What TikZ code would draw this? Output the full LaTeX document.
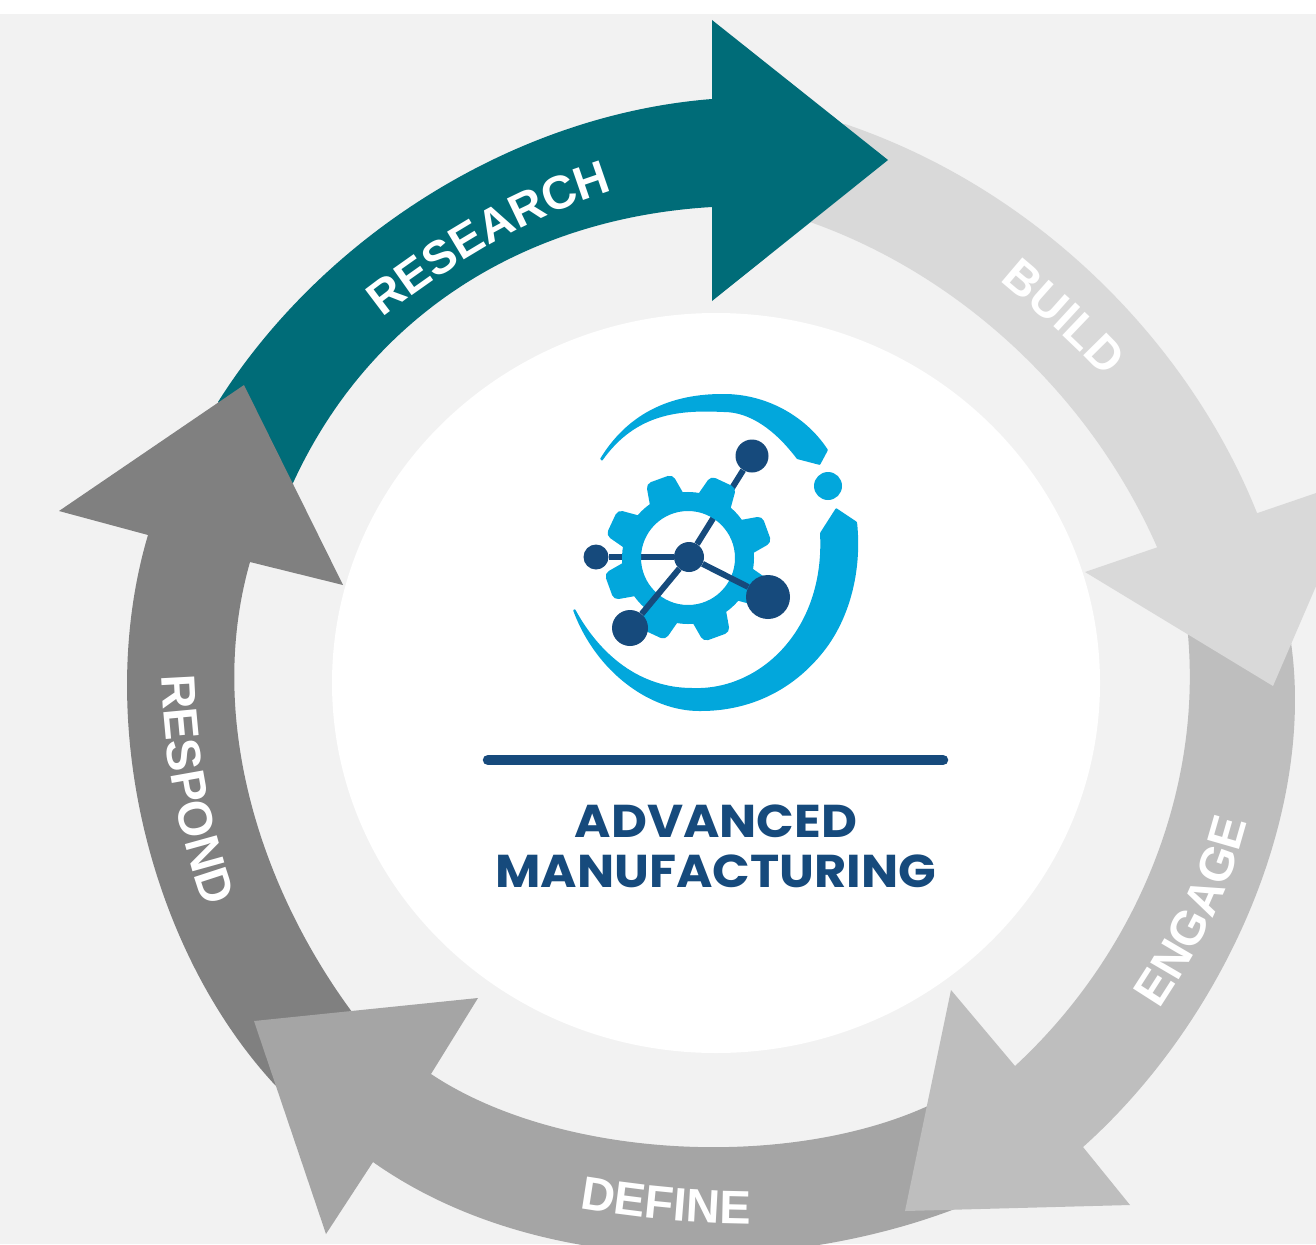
\documentclass[tikz,border=0pt]{standalone}
\usepackage{fontspec}
\setmainfont{Liberation Sans}
\newfontfamily\logofont{Poppins}
\usetikzlibrary{decorations.text}
\definecolor{bgc}{HTML}{F2F2F2}
\definecolor{resc}{HTML}{006C78}
\definecolor{buic}{HTML}{D9D9D9}
\definecolor{engc}{HTML}{BEBEBE}
\definecolor{defc}{HTML}{A5A5A5}
\definecolor{rspc}{HTML}{808080}
\definecolor{lblue}{HTML}{02A7DC}
\definecolor{dblue}{HTML}{164A7C}
\tikzset{
  mol/.style={circle,fill=dblue,inner sep=0pt,minimum size=#1},
  bond/.style={dblue,line width=6pt},
  logotext/.style={text=dblue,font=\logofont\bfseries\fontsize{46}{46}\selectfont,inner sep=0pt,anchor=center}
}
\newcommand{\arrowlabel}[3]{\path[decorate,decoration={text along path,text align=center,
   text={|\fontsize{#1}{#1}\selectfont\bfseries\color{white}|#2}}] #3;}
\begin{document}
\begin{tikzpicture}[x=1pt,y=-1pt]
\useasboundingbox (0,0) rectangle (1316,1244);
\clip (0,0) rectangle (1316,1244);
\fill[white] (0,0) rectangle (1316,1244);
\fill[bgc] (0,14) rectangle (1316,1244);
% build body
\fill[buic] (800,130) -- (845,124) .. controls (1040,190) and (1190,345) .. (1257,513)
  -- (1270,560) -- (1160,580) -- (1157,547) .. controls (1090,395) and (960,275) .. (810,222) -- (790,225) -- cycle;
% research
\fill[resc] (218,402) .. controls (320,240) and (510,115) .. (712,99) -- (712,20) -- (888,160) -- (712,301) -- (712,207)
  .. controls (525,218) and (370,315) .. (293,483) -- (270,480) -- cycle;
% respond
\fill[rspc] (59,511) -- (244,385) -- (343,585) -- (250,562) .. controls (205,720) and (262,890) .. (352,1012)
  -- (340,1050) -- (300,1100) -- (275,1085) .. controls (150,950) and (93,720) .. (148,535) -- cycle;
% define
\fill[defc] (254,1021) -- (478,998) -- (431,1074) .. controls (560,1160) and (790,1170) .. (930,1105)
  -- (960,1150) -- (965,1205) .. controls (790,1275) and (540,1280) .. (373,1162) -- (326,1234) -- cycle;
% engage
\fill[engc] (951,990) -- (1015,1066) .. controls (1135,955) and (1205,790) .. (1187,625) -- (1290,636)
  .. controls (1318,810) and (1225,1020) .. (1083,1147) -- (1130,1205) -- (905,1211) -- cycle;
% build head
\fill[buic] (1085,572) -- (1363,477) -- (1273,686) -- cycle;
% labels
\arrowlabel{47}{RESEARCH}{(380,320) .. controls (425,285) and (510,222) .. (616,190)}
\arrowlabel{47}{BUILD}{(992,274) .. controls (1030,305) and (1075,345) .. (1112,385)}
\arrowlabel{48}{ENGAGE}{(1156,1015) .. controls (1193,960) and (1230,895) .. (1249,815)}
\arrowlabel{47}{DEFINE}{(574,1207.5) .. controls (635,1218) and (695,1224) .. (756,1224)}
\arrowlabel{48}{RESPOND}{(161,664) .. controls (163,750) and (176,830) .. (208,918)}
% centre
\fill[white] (716,683) ellipse [x radius=384pt,y radius=370pt];
% logo arcs
\fill[lblue,rounded corners=0.8pt] (600,459) .. controls (630,410) and (675,394) .. (723,394) .. controls (765,394) and (805,415) .. (828,450)
  -- (820,465) -- (797,459) .. controls (775,430) and (750,412) .. (723,412) .. controls (680,410) and (636,413) .. (602,461) -- cycle;
\fill[lblue,rounded corners=0.8pt] (836,508) -- (857,522) .. controls (862,570) and (850,615) .. (827,647) .. controls (795,690) and (750,711) .. (700,711)
  .. controls (650,711) and (596,672) .. (573,610) -- (575,609) .. controls (600,655) and (640,688) .. (693,688)
  .. controls (760,690) and (825,630) .. (820,533) -- cycle;
\node[circle,fill=lblue,inner sep=0pt,minimum size=28pt] (logodot) at (828,486) {};
% molecule, part below the gear
\node[mol=30pt] (hub) at (689,557) {};
\node[mol=33pt] (m1) at (752,456) {};
\node[mol=25pt] (m2) at (596,557) {};
\draw[bond] (hub) -- (m1);
\draw[bond] (hub) -- (m2);
% gear
\foreach \a in {20,65,110,155,200,245,290,335}{
  \begin{scope}[shift={(688,558)},rotate=\a]
    \fill[lblue,rounded corners=5pt] (55,-19) -- (84,-14) -- (84,14) -- (55,19) -- cycle;
  \end{scope}
}
\node[circle,draw=lblue,line width=19pt,inner sep=0pt,minimum size=113pt] (gearring) at (688,558) {};
% molecule, part above the gear
\node[mol=44pt] (m3) at (768,597) {};
\node[mol=36pt] (m4) at (630,628) {};
\draw[bond] (hub) -- (m3);
\draw[bond] (hub) -- (m4);
% rule and wordmark
\coordinate (ruleL) at (488,760);
\coordinate (ruleR) at (943,760);
\draw[dblue,line width=10.5pt,line cap=round] (ruleL) -- (ruleR);
\node[logotext] (adv) at (716,821) {\scalebox{1.075}[1]{ADVANCED}};
\node[logotext] (man) at (716,871) {\scalebox{1.075}[1]{MANUFACTURING}};
\end{tikzpicture}
\end{document}
